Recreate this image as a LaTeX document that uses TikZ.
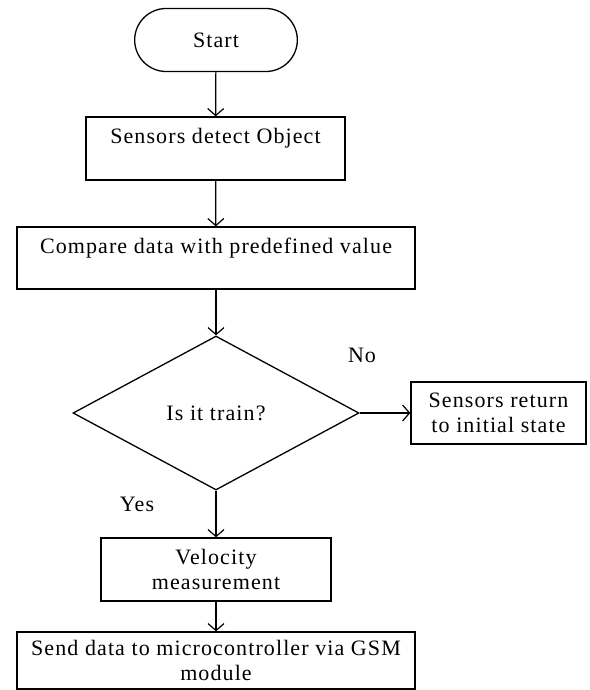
\documentclass[tikz,border=0pt]{standalone}
\usepackage{fontspec}
\setmainfont[LetterSpace=5]{Liberation Serif}
\usepackage{tikz}
\usetikzlibrary{shapes.geometric, shapes.misc, arrows.meta}
\tikzset{
>={Straight Barb[length=3.5pt,width=8pt]}, % open arrow heads as in the chart
every node/.style={font=\fontsize{11}{12.5}\selectfont, align=center}, % text of all nodes
flowbox/.style={draw, line width=0.65pt, rectangle, inner sep=2pt}, % plain process boxes
terminal/.style={draw, line width=0.65pt, rounded rectangle, minimum width=88pt, minimum height=31.5pt}, % start box
decision/.style={draw, line width=0.65pt, diamond, minimum width=143pt, minimum height=77pt, inner sep=0pt}, % question
flow/.style={->, line width=0.6pt}, % connectors
}

\begin{document}
\begin{tikzpicture}[x=0.5pt, y=-0.5pt]
        %% fixed page size, coordinates are in pixels of the original
        \useasboundingbox (0,0) rectangle (589,690);
        %% the boxes
        \node[terminal] (start) at (216,40) {Start};
        \node[flowbox, minimum width=129.5pt, minimum height=31.5pt] (detect) at (215.5,148.5) {Sensors detect Object\\~};
        \node[flowbox, minimum width=199pt, minimum height=31pt] (compare) at (216,258) {Compare data with predefined value\\~};
        \node[decision] (train) at (216,413) {Is it train?};
        \node[flowbox, minimum width=87.5pt, minimum height=31pt] (reset) at (498.5,413) {Sensors return\\to initial state};
        \node[flowbox, minimum width=115pt, minimum height=31.5pt] (velocity) at (216,569.5) {Velocity\\measurement};
        \node[flowbox, minimum width=199pt, minimum height=28.5pt] (send) at (216,660.5) {Send data to microcontroller via GSM\\module};
        %% branch labels
        \node (no) at (362,355) {No};
        \node (yes) at (137,504) {Yes};
        %% connectors
        \draw[flow] (start) -- (detect);
        \draw[flow] (detect) -- (compare);
        \draw[flow] (compare) -- (train);
        \draw[flow] (train) -- (reset);
        \draw[flow] (train) -- (velocity);
        \draw[flow] (velocity) -- (send);
\end{tikzpicture}
\end{document}
